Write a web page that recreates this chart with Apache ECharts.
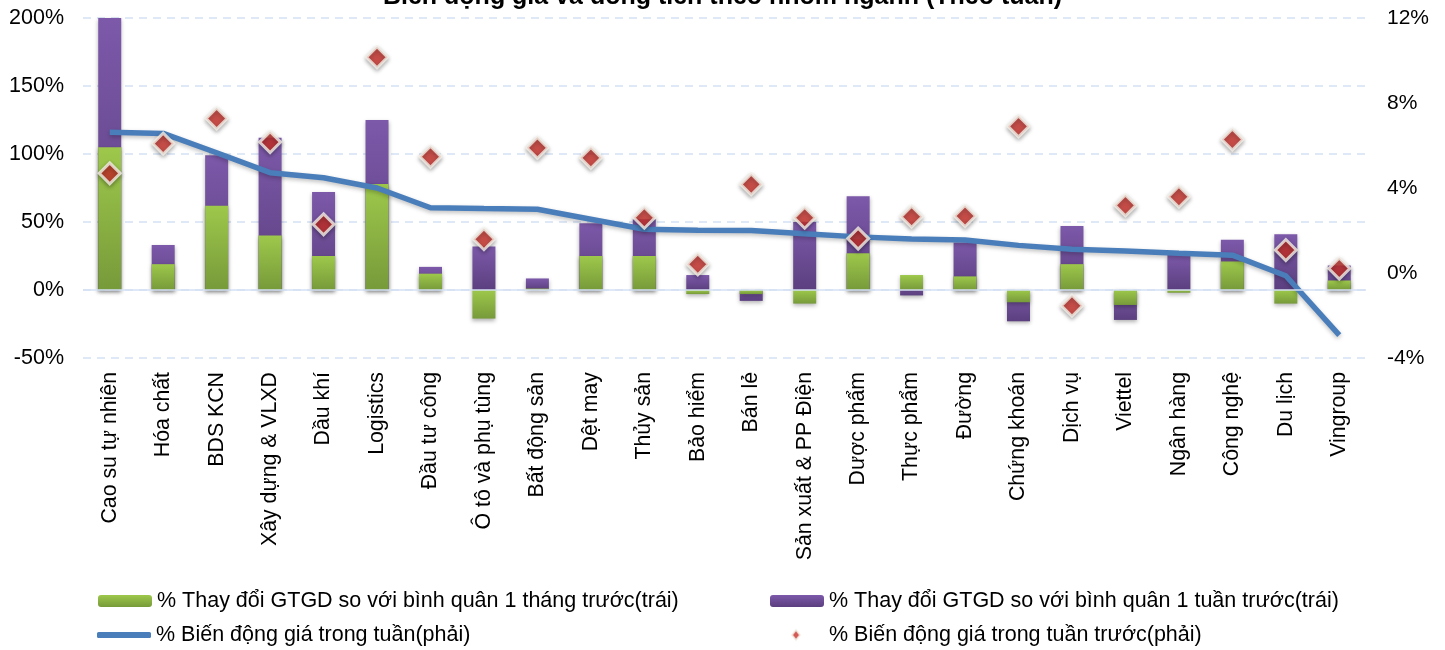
<!DOCTYPE html>
<html><head><meta charset="utf-8">
<script src="https://cdn.jsdelivr.net/npm/echarts@6/dist/echarts.min.js"></script>
<style>html,body{margin:0;padding:0;background:#fff}#c{width:1445px;height:650px}</style>
</head><body><div id="c"></div>
<script>
var categories = ["Cao su tự nhiên","Hóa chất","BDS KCN","Xây dựng & VLXD","Dầu khí","Logistics","Đầu tư công","Ô tô và phụ tùng","Bất động sản","Dệt may","Thủy sản","Bảo hiểm","Bán lẻ","Sản xuất & PP Điện","Dược phẩm","Thực phẩm","Đường","Chứng khoán","Dịch vụ","Viettel","Ngân hàng","Công nghệ","Du lịch","Vingroup"];
var monthChange = [105,19,62,40,25,78,12,-21,1,25,25,-3,-3,-10,27,11,10,-9,19,-11,-2,21,-10,7];
var weekChange = [200,33,99,112,72,125,17,32,8.5,49,52,11,-8,50,69,-4,35,-23,47,-22,26,37,41,18];
var priceWeek = [6.62,6.57,5.66,4.72,4.48,4.0,3.07,3.03,3.0,2.53,2.06,2.01,2.0,1.85,1.7,1.6,1.55,1.3,1.12,1.04,0.93,0.84,-0.13,-2.92];
var pricePrevWeek = [4.69,6.09,7.27,6.16,2.29,10.15,5.47,1.59,5.89,5.42,2.6,0.41,4.17,2.6,1.62,2.65,2.68,6.9,-1.54,3.18,3.59,6.28,1.08,0.21];
var leftTicks = {min:-50,max:200,interval:50};
var rightTicks = {min:-4,max:12,interval:4};

var names = ["% Thay đổi GTGD so với bình quân 1 tháng trước(trái)","% Thay đổi GTGD so với bình quân 1 tuần trước(trái)","% Biến động giá trong tuần(phải)","% Biến động giá trong tuần trước(phải)"];
var FONT = 'Liberation Sans, Arial, sans-serif';
var green = new echarts.graphic.LinearGradient(0,0,0,1,[{offset:0,color:'#9dc84b'},{offset:1,color:'#779a3a'}]);
var purple = new echarts.graphic.LinearGradient(0,0,0,1,[{offset:0,color:'#7d59aa'},{offset:1,color:'#5b3f7f'}]);
var chart = echarts.init(document.getElementById('c'));
var lg = function(name,left,top,extra){
  var o = {data:[name],left:left,top:top,itemWidth:54,itemHeight:12,itemGap:0,
    textStyle:{fontFamily:FONT,fontSize:21.5,color:'#000'},selectedMode:false};
  for (var k in extra) o[k]=extra[k];
  return o;
};
chart.setOption({
  animation:false,
  title:{text:'Biến động giá và dòng tiền theo nhóm ngành (Theo tuần)',left:'center',top:-20,
    textStyle:{fontFamily:FONT,fontSize:25,fontWeight:'bold',color:'#000'}},
  legend:[
    lg(names[0],93,585,{}),
    lg(names[1],765,585,{}),
    lg(names[2],92,619,{icon:'roundRect',itemHeight:6}),
    lg(names[3],786,619,{icon:'diamond',itemWidth:8,itemHeight:10,
      textStyle:{fontFamily:FONT,fontSize:21.5,color:'#000',padding:[0,0,0,24]}})
  ],
  grid:{left:83,right:79,top:18,bottom:292},
  xAxis:{type:'category',data:categories,axisLine:{show:false},axisTick:{show:false},
    axisLabel:{rotate:90,interval:0,margin:14,fontFamily:FONT,fontSize:21.3,color:'#000'}},
  yAxis:[
    {type:'value',min:leftTicks.min,max:leftTicks.max,interval:leftTicks.interval,
     axisLine:{show:false},axisTick:{show:false},
     axisLabel:{formatter:'{value}%',fontFamily:FONT,fontSize:21.5,color:'#000',margin:19},
     splitLine:{lineStyle:{color:'#d4e1f3',type:[8,6],width:1.5}}},
    {type:'value',min:rightTicks.min,max:rightTicks.max,interval:rightTicks.interval,
     axisLine:{show:false},axisTick:{show:false},splitLine:{show:false},
     axisLabel:{formatter:'{value}%',fontFamily:FONT,fontSize:21,color:'#000',margin:21}}
  ],
  series:[
    {name:names[1],type:'bar',yAxisIndex:0,data:weekChange,barWidth:'43%',z:2,
     itemStyle:{color:purple,shadowBlur:4,shadowColor:'rgba(0,0,0,0.3)',shadowOffsetY:2},
     markLine:{silent:true,symbol:'none',label:{show:false},lineStyle:{color:'#d4e1f3',type:'solid',width:1.5},data:[{yAxis:0}]}},
    {name:names[0],type:'bar',yAxisIndex:0,data:monthChange,barWidth:'43%',barGap:'-100%',z:3,
     itemStyle:{color:green,shadowBlur:4,shadowColor:'rgba(0,0,0,0.3)',shadowOffsetY:2}},
    {name:names[2],type:'line',yAxisIndex:1,data:priceWeek,symbol:'none',z:4,
     lineStyle:{color:'#4a7ebb',width:5.5,shadowBlur:4,shadowColor:'rgba(0,0,0,0.25)',shadowOffsetY:2},
     itemStyle:{color:'#4a7ebb'}},
    {name:names[3],type:'scatter',yAxisIndex:1,data:pricePrevWeek,symbol:'diamond',symbolSize:21,z:5,
     itemStyle:{color:'#c8312b',borderColor:'#f3efe6',borderWidth:3,shadowBlur:4,shadowColor:'rgba(0,0,0,0.35)',shadowOffsetY:2}}
  ]
});
</script></body></html>
